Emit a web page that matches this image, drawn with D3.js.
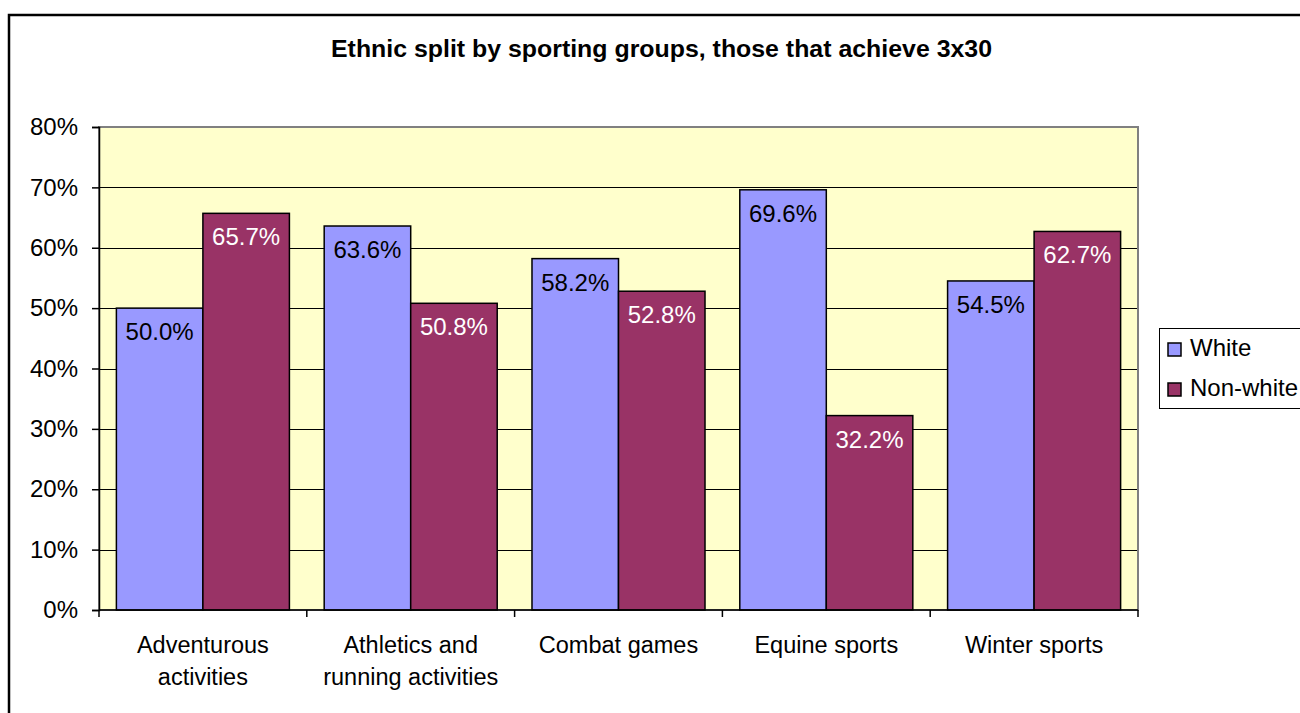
<!DOCTYPE html>
<html>
<head>
<meta charset="utf-8">
<script src="https://cdn.jsdelivr.net/npm/d3@7"></script>
<style>
  body { margin: 0; background: #fff; }
  svg { display: block; font-family: "Liberation Sans", Arial, sans-serif; }
</style>
</head>
<body>
<svg id="chart" width="1300" height="713"></svg>
<script>
const categories = [["Adventurous", "activities"], ["Athletics and", "running activities"], ["Combat games"], ["Equine sports"], ["Winter sports"]];
const seriesNames = ["White", "Non-white"];
const whiteValues = [50.0, 63.6, 58.2, 69.6, 54.5];
const nonWhiteValues = [65.7, 50.8, 52.8, 32.2, 62.7];
const yTicks = [0, 10, 20, 30, 40, 50, 60, 70, 80];
const title = "Ethnic split by sporting groups, those that achieve 3x30";

const colors = { "White": "#9999FF", "Non-white": "#993366" };
const labelColors = { "White": "#000", "Non-white": "#fff" };

const plot = { left: 99, right: 1138, top: 127, bottom: 610 };

const svg = d3.select('#chart');

// outer chart border (runs off the right and bottom edges)
svg.append('rect')
    .attr('x', 9).attr('y', 15)
    .attr('width', 1400).attr('height', 800)
    .attr('fill', '#fff')
    .attr('stroke', '#000')
    .attr('stroke-width', 2.5);

svg.append('text')
    .attr('x', 331).attr('y', 57)
    .attr('textLength', 661)
    .attr('lengthAdjust', 'spacingAndGlyphs')
    .style('font-size', '23.5px')
    .style('font-weight', 'bold')
    .text(title);

const keys = categories.map((c, i) => i);
const x0 = d3.scaleBand().domain(keys).range([plot.left, plot.right]).padding(0);
const x1 = d3.scaleBand().domain(seriesNames).range([0, x0.bandwidth()]).paddingInner(0).paddingOuter(0.201);
const y = d3.scaleLinear().domain([0, 80]).range([plot.bottom, plot.top]);

// plot background
svg.append('rect')
    .attr('x', plot.left).attr('y', plot.top)
    .attr('width', plot.right - plot.left).attr('height', plot.bottom - plot.top)
    .attr('fill', '#FFFFCC');

// gridlines
svg.append('g')
    .selectAll('line')
    .data(yTicks.filter(d => d > 0 && d < 80))
    .join('line')
        .attr('x1', plot.left).attr('x2', plot.right)
        .attr('y1', d => Math.round(y(d)) + 0.5).attr('y2', d => Math.round(y(d)) + 0.5)
        .attr('stroke', '#000')
        .attr('stroke-width', 1);

// plot border
svg.append('rect')
    .attr('x', plot.left).attr('y', plot.top)
    .attr('width', plot.right - plot.left).attr('height', plot.bottom - plot.top)
    .attr('fill', 'none')
    .attr('stroke', '#808080')
    .attr('stroke-width', 2);

// bars
const rows = keys.map(i => ({
    i: i,
    values: [
        { name: "White", value: whiteValues[i] },
        { name: "Non-white", value: nonWhiteValues[i] }
    ]
}));

const groups = svg.append('g')
    .selectAll('g')
    .data(rows)
    .join('g')
        .attr('transform', d => `translate(${x0(d.i)},0)`);

groups.selectAll('rect')
    .data(d => d.values)
    .join('rect')
        .attr('x', d => x1(d.name))
        .attr('y', d => y(d.value))
        .attr('width', x1.bandwidth())
        .attr('height', d => y(0) - y(d.value))
        .attr('fill', d => colors[d.name])
        .attr('stroke', '#000')
        .attr('stroke-width', 1.5);

groups.selectAll('text')
    .data(d => d.values)
    .join('text')
        .attr('x', d => x1(d.name) + x1.bandwidth() / 2)
        .attr('y', d => y(d.value) + 32)
        .attr('text-anchor', 'middle')
        .attr('fill', d => labelColors[d.name])
        .style('font-size', '24px')
        .text(d => d.value.toFixed(1) + '%');

// y axis
const yAxis = d3.axisLeft(y).tickValues(yTicks).tickFormat(d => d + '%').tickSize(7).tickPadding(14);
const yG = svg.append('g')
    .attr('transform', `translate(${plot.left},0)`)
    .call(yAxis);
yG.select('.domain').attr('stroke', '#000').attr('stroke-width', 1.5);
yG.selectAll('.tick line').attr('stroke', '#000').attr('stroke-width', 1.5);
yG.selectAll('.tick text')
    .style('font-size', '24px')
    .style('font-family', '"Liberation Sans", Arial, sans-serif')
    .attr('fill', '#000');

// x axis line and category ticks
svg.append('line')
    .attr('x1', plot.left).attr('x2', plot.right)
    .attr('y1', plot.bottom).attr('y2', plot.bottom)
    .attr('stroke', '#000').attr('stroke-width', 1.5);

svg.append('g')
    .selectAll('line')
    .data(keys.concat([keys.length]))
    .join('line')
        .attr('x1', d => d < keys.length ? x0(d) : plot.right)
        .attr('x2', d => d < keys.length ? x0(d) : plot.right)
        .attr('y1', plot.bottom).attr('y2', plot.bottom + 7)
        .attr('stroke', '#000').attr('stroke-width', 1.5);

const catLabels = svg.append('g')
    .selectAll('text')
    .data(keys)
    .join('text')
        .attr('x', d => x0(d) + x0.bandwidth() / 2)
        .attr('y', 653)
        .attr('text-anchor', 'middle')
        .style('font-size', '23.5px');

catLabels.selectAll('tspan')
    .data(d => categories[d])
    .join('tspan')
        .attr('x', function() { return this.parentNode.getAttribute('x'); })
        .attr('dy', (d, i) => i === 0 ? 0 : 32)
        .text(d => d);

// legend
const legend = svg.append('g');
legend.append('rect')
    .attr('x', 1159.5).attr('y', 328.5)
    .attr('width', 200).attr('height', 80)
    .attr('fill', '#fff')
    .attr('stroke', '#000')
    .attr('stroke-width', 1);

const items = legend.selectAll('g')
    .data(seriesNames)
    .join('g')
        .attr('transform', (d, i) => `translate(1168,${343 + i * 40})`);

items.append('rect')
    .attr('width', 13).attr('height', 13)
    .attr('fill', d => colors[d])
    .attr('stroke', '#000')
    .attr('stroke-width', 1.5);

items.append('text')
    .attr('x', 22).attr('y', 13)
    .style('font-size', '24px')
    .text(d => d);
</script>
</body>
</html>
